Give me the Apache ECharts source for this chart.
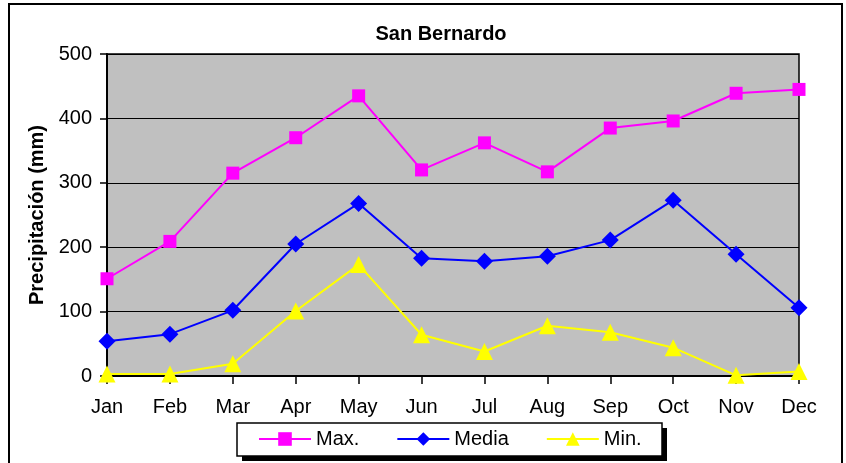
<!DOCTYPE html>
<html>
<head>
<meta charset="utf-8">
<script src="https://cdn.jsdelivr.net/npm/echarts@6/dist/echarts.min.js"></script>
<style>
  html, body { margin: 0; padding: 0; background: #fff; }
  #chart { width: 846px; height: 463px; }
</style>
</head>
<body>
<div id="chart"></div>
<script>
// 月份
const months = ['Jan', 'Feb', 'Mar', 'Apr', 'May', 'Jun', 'Jul', 'Aug', 'Sep', 'Oct', 'Nov', 'Dec']
// 降水量 (mm)
const maxValues = [151, 209, 315, 370, 435, 320, 362, 317, 385, 396, 439, 445]
const mediaValues = [54, 65, 102, 205, 268, 183, 178, 186, 211, 273, 189, 106]
const minValues = [3, 3, 19, 101, 173, 64, 38, 78, 68, 44, 1, 7]

const FONT = '"Liberation Sans", Arial, sans-serif'

const chart = echarts.init(document.getElementById('chart'), null, { renderer: 'canvas' })

const option = {
  animation: false,
  backgroundColor: '#fff',
  textStyle: { fontFamily: FONT, color: '#000' },
  title: {
    text: 'San Bernardo',
    left: 441,
    top: 24,
    textAlign: 'center',
    padding: 0,
    textStyle: { fontFamily: FONT, fontSize: 20, fontWeight: 'bold', color: '#000' }
  },
  grid: {
    left: 107,
    right: 47,
    top: 54,
    bottom: 87,
    show: true,
    backgroundColor: '#c0c0c0',
    borderColor: '#000',
    borderWidth: 1.5
  },
  xAxis: {
    type: 'category',
    data: months,
    boundaryGap: false,
    axisLine: { lineStyle: { color: '#000', width: 2 } },
    axisTick: { length: 8, lineStyle: { color: '#000', width: 1.5 } },
    axisLabel: { color: '#000', fontSize: 20, fontFamily: FONT, margin: 21 },
    splitLine: { show: false }
  },
  yAxis: {
    type: 'value',
    min: 0,
    max: 500,
    interval: 100,
    name: 'Precipitación (mm)',
    nameLocation: 'middle',
    nameGap: 58,
    nameTextStyle: { fontFamily: FONT, fontSize: 20, fontWeight: 'bold', color: '#000' },
    axisLine: { show: true, lineStyle: { color: '#000', width: 2 } },
    axisTick: { show: true, length: 7, lineStyle: { color: '#000', width: 1.5 } },
    axisLabel: { color: '#000', fontSize: 20, fontFamily: FONT, margin: 15 },
    splitLine: { lineStyle: { color: '#000', width: 1.2 } }
  },
  legend: {
    left: 237,
    top: 424,
    orient: 'horizontal',
    itemWidth: 52,
    itemHeight: 17,
    itemGap: 37,
    padding: [5, 21, 5, 21],
    textStyle: { fontFamily: FONT, fontSize: 20, color: '#000' },
    data: ['Max.', 'Media', 'Min.']
  },
  graphic: [
    {
      // 外边框
      type: 'rect',
      shape: { x: 9, y: 4, width: 833, height: 480 },
      style: { fill: 'none', stroke: '#000', lineWidth: 2 },
      silent: true,
      z: 100
    },
    {
      // 图例阴影
      type: 'rect',
      shape: { x: 242, y: 428, width: 425, height: 33 },
      style: { fill: '#000' },
      silent: true,
      z: 1
    },
    {
      // 图例边框
      type: 'rect',
      shape: { x: 237, y: 423, width: 425, height: 33 },
      style: { fill: '#fff', stroke: '#000', lineWidth: 1.5 },
      silent: true,
      z: 2
    }
  ],
  series: [
    {
      name: 'Max.',
      type: 'line',
      data: maxValues,
      symbol: 'rect',
      symbolSize: 13,
      lineStyle: { color: '#ff00ff', width: 2 },
      itemStyle: { color: '#ff00ff' }
    },
    {
      name: 'Media',
      type: 'line',
      data: mediaValues,
      symbol: 'diamond',
      symbolSize: 17,
      lineStyle: { color: '#0000ff', width: 2 },
      itemStyle: { color: '#0000ff' }
    },
    {
      name: 'Min.',
      type: 'line',
      data: minValues,
      symbol: 'triangle',
      symbolSize: 17,
      lineStyle: { color: '#ffff00', width: 2 },
      itemStyle: { color: '#ffff00' }
    }
  ]
}

chart.setOption(option)
</script>
</body>
</html>
